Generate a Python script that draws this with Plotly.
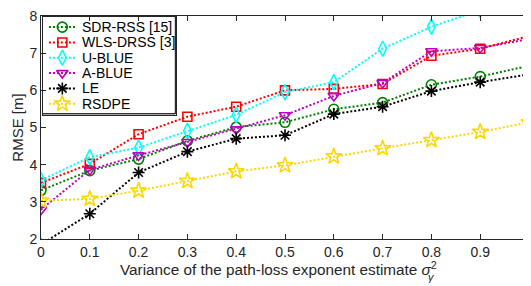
import plotly.graph_objects as go

x_vals = [0, 0.1, 0.2, 0.3, 0.4, 0.5, 0.6, 0.7, 0.8, 0.9, 1.0]
sdr_rss = [3.31, 3.84, 4.15, 4.64, 5.01, 5.14, 5.49, 5.67, 6.15, 6.37, 6.66]
wls_drss = [3.51, 4.02, 4.82, 5.29, 5.56, 6.00, 6.04, 6.17, 6.93, 7.12, 7.46]
u_blue = [3.58, 4.20, 4.46, 4.91, 5.34, 5.95, 6.22, 7.12, 7.71, 8.16, 8.60]
a_blue = [2.79, 3.86, 4.25, 4.61, 4.95, 5.33, 5.85, 6.20, 7.05, 7.14, 7.38]
le = [1.85, 2.68, 3.79, 4.35, 4.70, 4.79, 5.36, 5.56, 5.98, 6.22, 6.43]
rsdpe = [3.03, 3.08, 3.30, 3.56, 3.82, 3.98, 4.22, 4.44, 4.66, 4.88, 5.14]

names = ["SDR-RSS [15]", "WLS-DRSS [3]", "U-BLUE", "A-BLUE", "LE", "RSDPE"]
series = [sdr_rss, wls_drss, u_blue, a_blue, le, rsdpe]
colors = ["#008000", "#ff0000", "#00ffff", "#c000c0", "#000000", "#ffd700"]
symbols = ["circle-open", "square-open", "diamond-tall-open", "triangle-down-open",
           "asterisk-open", "star-open"]
sizes = [10, 9, 11, 10, 10, 12]

x_ticks = [0, 0.1, 0.2, 0.3, 0.4, 0.5, 0.6, 0.7, 0.8, 0.9, 1.0]
x_ticktext = ["0", "0.1", "0.2", "0.3", "0.4", "0.5", "0.6", "0.7", "0.8", "0.9", "1"]
y_ticks = [2, 3, 4, 5, 6, 7, 8]

FONT = "Liberation Sans, Arial, Helvetica, sans-serif"
AX = "#262626"
DASH = "2px,2px"

# ---- layout geometry (figure pixels) ----
W, H = 525, 286
ML, MT, MB = 33, 4, 55
PL, PR = ML, W          # plot area left/right
PT, PB = MT, H - MB     # plot area top/bottom
PW, PH = PR - PL, PB - PT


def px_to_paper_x(px):
    return (px - PL) / PW


def px_to_paper_y(py):
    return (PB - py) / PH


# legend box geometry (figure pixels)
LEG_L, LEG_R, LEG_T, LEG_B = 34.5, 168.5, PT + 0.5, 103.5
ROW0, ROW_STEP = 15.3, 15.6
KEY_X0, KEY_X1, TEXT_X = 41.0, 68.0, 72.0

fig = go.Figure()
for nm, ys, c, s, sz in zip(names, series, colors, symbols, sizes):
    fig.add_trace(go.Scatter(
        x=x_vals, y=ys, name=nm, mode="lines+markers",
        line=dict(color=c, width=2, dash=DASH),
        marker=dict(symbol=s, size=sz, color=c, line=dict(color=c, width=1.6)),
        cliponaxis=True, showlegend=False,
    ))

# legend box outline on pixel-space overlay axes
fig.add_trace(go.Scatter(
    x=[LEG_L, LEG_R, LEG_R, LEG_L, LEG_L], y=[LEG_T, LEG_T, LEG_B, LEG_B, LEG_T],
    xaxis="x2", yaxis="y2", mode="lines",
    line=dict(color=AX, width=1), showlegend=False, hoverinfo="skip",
))

# legend border also as an empty bordered annotation box
fig.add_annotation(
    text=" ", xref="paper", yref="paper",
    x=px_to_paper_x(LEG_L - 0.5), y=px_to_paper_y(LEG_T - 0.5),
    xanchor="left", yanchor="top", showarrow=False,
    width=LEG_R - LEG_L - 1, height=LEG_B - LEG_T - 1,
    bordercolor=AX, borderwidth=1, borderpad=0, bgcolor="rgba(0,0,0,0)",
)

for i, (nm, c, s, sz) in enumerate(zip(names, colors, symbols, sizes)):
    yy = ROW0 + ROW_STEP * i
    fig.add_trace(go.Scatter(
        x=[KEY_X0, KEY_X1], y=[yy, yy], xaxis="x2", yaxis="y2", mode="lines",
        line=dict(color=c, width=2, dash=DASH), showlegend=False, hoverinfo="skip",
    ))
    fig.add_trace(go.Scatter(
        x=[(KEY_X0 + KEY_X1) / 2], y=[yy], xaxis="x2", yaxis="y2", mode="markers",
        marker=dict(symbol=s, size=sz, color=c, line=dict(color=c, width=1.6)),
        showlegend=False, hoverinfo="skip",
    ))
    fig.add_annotation(
        text=nm, xref="x2", yref="y2", x=TEXT_X, y=yy, xanchor="left",
        yanchor="middle", showarrow=False, font=dict(size=14, color="#000000"),
    )

# legend border as a layout shape (paper coordinates)
fig.add_shape(type="rect", xref="paper", yref="paper",
              x0=px_to_paper_x(LEG_L), x1=px_to_paper_x(LEG_R),
              y0=px_to_paper_y(LEG_B), y1=px_to_paper_y(LEG_T),
              line=dict(color=AX, width=1), layer="above")

fig.update_layout(
    width=W, height=H, autosize=False,
    margin=dict(l=ML, r=0, t=MT, b=MB),
    paper_bgcolor="white", plot_bgcolor="white",
    font=dict(family=FONT, size=14, color=AX),
    showlegend=False,
    xaxis=dict(
        range=[0, 1], tickvals=x_ticks, ticktext=x_ticktext,
        ticks="inside", ticklen=5, tickcolor=AX, showline=True, linecolor=AX,
        linewidth=1, mirror="ticks", showgrid=False, zeroline=False,
        tickfont=dict(size=14, color=AX), ticklabeloverflow="allow",
    ),
    yaxis=dict(
        range=[2, 8], tickvals=y_ticks, ticks="inside", ticklen=5, tickcolor=AX,
        showline=True, linecolor=AX, linewidth=1, mirror="ticks", showgrid=False,
        zeroline=False, tickfont=dict(size=14, color=AX), ticklabeloverflow="allow",
    ),
    xaxis2=dict(range=[PL, PR], overlaying="x", visible=False, fixedrange=True),
    yaxis2=dict(range=[PB, PT], overlaying="y", visible=False, fixedrange=True),
)

fig.add_annotation(
    text="RMSE [m]", textangle=-90, xref="paper", yref="paper",
    x=px_to_paper_x(9), y=0.5, xanchor="center", yanchor="middle", showarrow=False,
    font=dict(size=15, color=AX),
)
fig.add_annotation(
    text="Variance of the path-loss exponent estimate <i>σ</i><sup>2</sup>",
    xref="paper", yref="paper", x=px_to_paper_x(110.7), y=px_to_paper_y(261),
    xanchor="left", yanchor="middle",
    showarrow=False, font=dict(size=15.3, color=AX),
)
fig.add_annotation(
    text="<i>γ</i>", xref="paper", yref="paper", x=px_to_paper_x(427),
    y=px_to_paper_y(270), xanchor="center", yanchor="middle", showarrow=False,
    font=dict(size=11, color=AX),
)

fig.write_html("out.html")
